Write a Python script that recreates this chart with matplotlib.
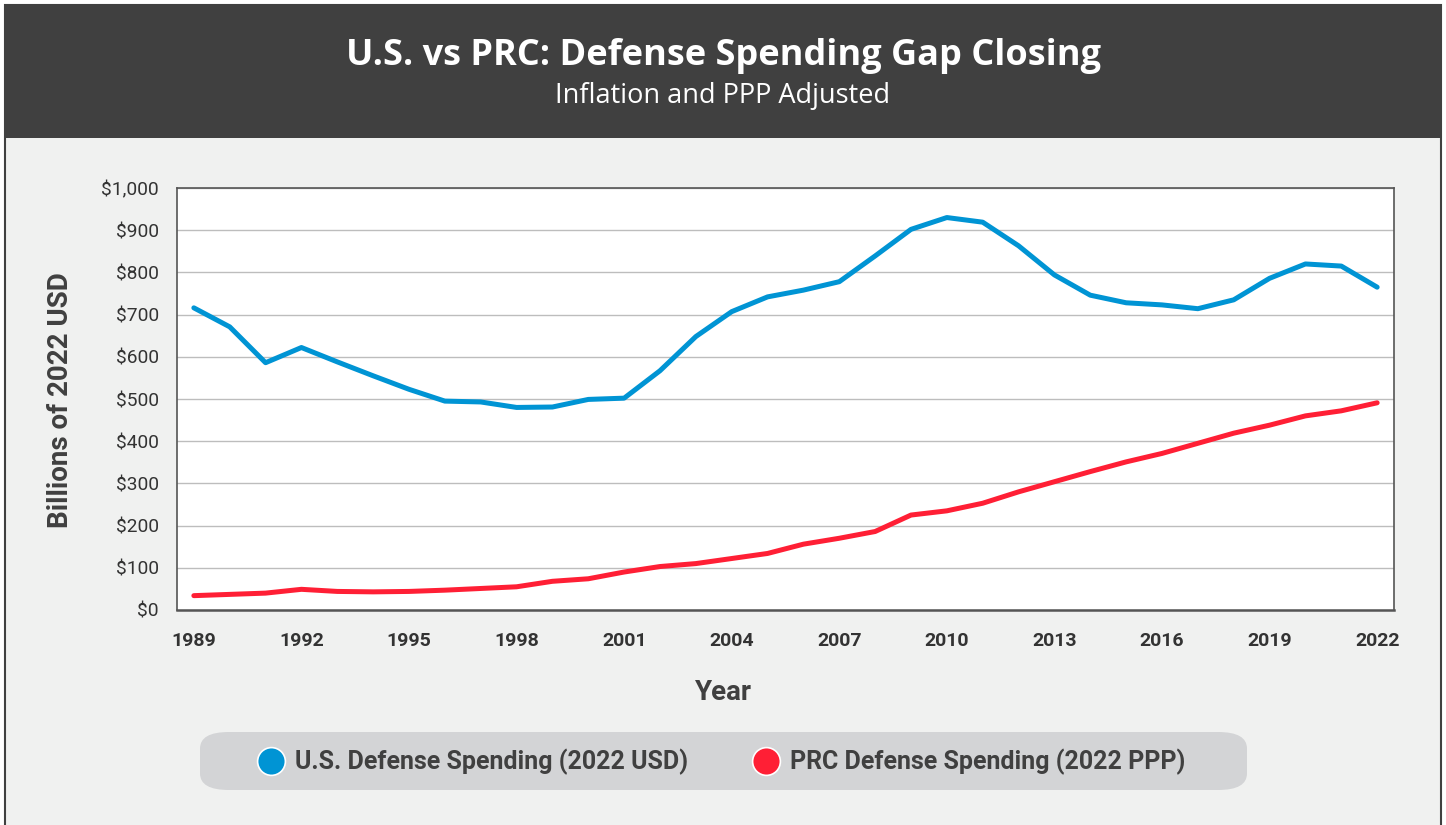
import matplotlib.pyplot as plt
from matplotlib.lines import Line2D
from matplotlib.patches import Rectangle, FancyBboxPatch
from matplotlib.ticker import FuncFormatter

# Defense spending, billions of 2022 dollars
years = list(range(1989, 2023))
us_spending = [716, 671, 586, 622, 588, 555, 523, 495, 493, 480, 481, 499,
               502, 567, 648, 707, 742, 758, 778, 839, 902, 930, 919, 863,
               794, 746, 728, 723, 714, 735, 786, 820, 815, 765]
prc_spending = [34, 37, 40, 49, 44, 43, 44, 47, 51, 55, 68, 74,
                90, 103, 110, 122, 134, 156, 170, 186, 225, 235, 253, 280,
                304, 328, 351, 371, 395, 419, 438, 460, 472, 491]
year_ticks = list(range(1989, 2023, 3))

blue = '#0094d4'
red = '#ff1f35'
text_dark = '#404040'

fig = plt.figure(figsize=(14.46, 8.25), dpi=100)
fig.patch.set_facecolor('white')

# page background and header band
fig.patches.append(Rectangle((5 / 1446, -10 / 825), 1436 / 1446, 830 / 825,
                             transform=fig.transFigure, facecolor='#f0f1f0',
                             edgecolor='#404040', linewidth=1.5, zorder=-2))
fig.patches.append(Rectangle((5 / 1446, 687 / 825), 1436 / 1446, 133 / 825,
                             transform=fig.transFigure, facecolor='#404040',
                             edgecolor='none', zorder=-1))
fig.text(0.5, 0.932, 'U.S. vs PRC: Defense Spending Gap Closing', ha='center',
         va='center', color='white', fontsize=26, fontweight='bold',
         family='Open Sans')
fig.text(0.5, 0.884, 'Inflation and PPP Adjusted', ha='center', va='center',
         color='white', fontsize=19.5, family='Open Sans')

ax = fig.add_axes([177 / 1446, 215 / 825, 1217 / 1446, 422 / 825])
ax.set_zorder(5)
ax.set_facecolor('white')
ax.plot(years, us_spending, color=blue, linewidth=3.6, solid_capstyle='round',
        solid_joinstyle='round', zorder=3)
ax.plot(years, prc_spending, color=red, linewidth=3.6, solid_capstyle='round',
        solid_joinstyle='round', zorder=3)

ax.set_xlim(1988.53, 2022.47)
ax.set_ylim(0, 1000)
ax.set_yticks(range(0, 1001, 100))
ax.set_xticks(year_ticks)
ax.yaxis.set_major_formatter(FuncFormatter(lambda v, p: f'${v:,.0f}'))
ax.grid(axis='y', color='#bdbdbd', linewidth=1)
ax.set_axisbelow(True)
for side in ax.spines.values():
    side.set_color('#555555')
    side.set_linewidth(1.2)
ax.spines['bottom'].set_linewidth(1.8)
ax.tick_params(axis='y', length=0, pad=13, colors='#333333')
ax.tick_params(axis='x', length=0, pad=16, colors='#333333')
for lbl in ax.get_yticklabels():
    lbl.set_family(['Liberation Sans Narrow', 'Roboto'])
    lbl.set_fontsize(13.8)
for lbl in ax.get_xticklabels():
    lbl.set_family(['Liberation Sans Narrow', 'Roboto'])
    lbl.set_fontsize(14)
    lbl.set_fontweight('bold')

# axis titles
fig.text(60 / 1446, 1 - 400 / 825, 'Billions of 2022 USD', rotation=90,
         ha='center', va='center', fontsize=20, fontweight='bold',
         color=text_dark, family='Roboto')
fig.text(723 / 1446, 1 - 692 / 825, 'Year', ha='center', va='center',
         fontsize=20, fontweight='bold', color=text_dark, family='Roboto')

# legend pill
fig.patches.append(FancyBboxPatch((200 / 1446, 35 / 825), 1047 / 1446, 58 / 825,
                                  boxstyle='round,pad=0,rounding_size=0.02',
                                  transform=fig.transFigure, facecolor='#d3d4d6',
                                  edgecolor='none', zorder=2))
legend_items = [(271, blue, 'U.S. Defense Spending (2022 USD)'),
                (766, red, 'PRC Defense Spending (2022 PPP)')]
for x, c, label in legend_items:
    fig.add_artist(Line2D([x / 1446], [64 / 825], transform=fig.transFigure,
                          marker='o', markersize=20, markerfacecolor=c,
                          markeredgecolor='white', markeredgewidth=1.2,
                          linestyle='none', zorder=3))
    fig.text((x + 24) / 1446, 63 / 825, label, color=text_dark, fontsize=18,
             fontweight='bold', ha='left', va='center', family='Roboto', zorder=3)

fig.savefig('out.png', dpi=100)
